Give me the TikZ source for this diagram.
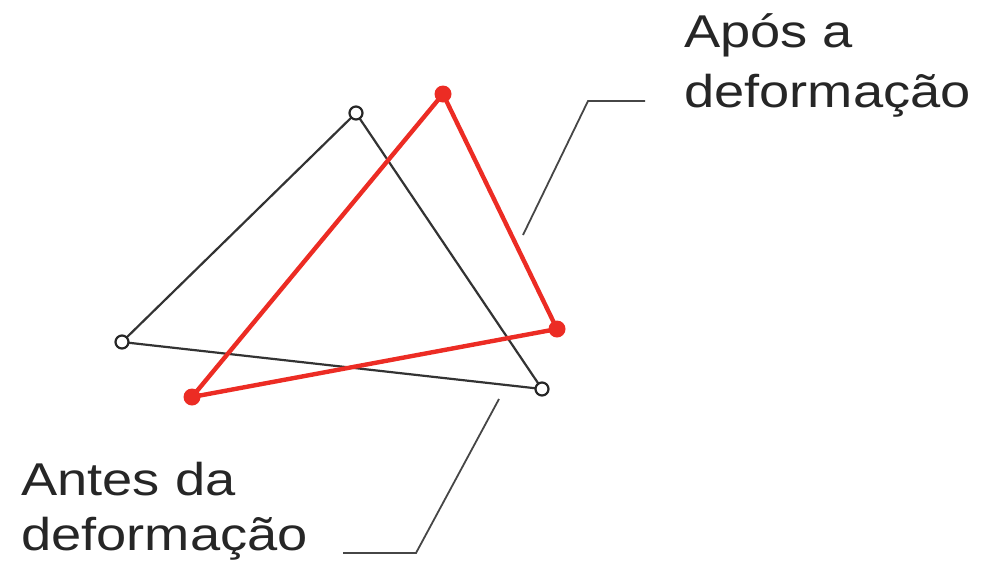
\documentclass[tikz,border=0pt]{standalone}
\usepackage{fontspec}
\newfontfamily\lblfont[FakeStretch=1.18]{Liberation Sans}
\definecolor{redline}{RGB}{236,44,36}
\definecolor{leader}{RGB}{70,70,70}
\begin{document}
\begin{tikzpicture}[x=1pt,y=-1pt,
  blackpt/.style={circle,draw=black!85,line width=2.2pt,minimum size=13pt,inner sep=0pt,fill=white},
  redpt/.style={circle,fill=redline,minimum size=17pt,inner sep=0pt},
  blackedge/.style={draw=black!80,line width=2.2pt},
  rededge/.style={draw=redline,line width=4.4pt,line join=round},
  leaderline/.style={draw=leader,line width=1.8pt},
  lbl/.style={anchor=base west,inner sep=0pt,font=\lblfont\fontsize{46}{56}\selectfont,text=black!85}]
\useasboundingbox (0,0) rectangle (985,566);
% before deformation (black)
\coordinate (ba) at (356,113);
\coordinate (bb) at (122,342);
\coordinate (bc) at (542,389);
\draw[blackedge] (ba) -- (bb) -- (bc) -- cycle;
% after deformation (red)
\coordinate (ra) at (443,94);
\coordinate (rb) at (557,329);
\coordinate (rc) at (192,397);
\draw[rededge] (ra) -- (rb) -- (rc) -- cycle;
\node[redpt] (rA) at (ra) {};
\node[redpt] (rB) at (rb) {};
\node[redpt] (rC) at (rc) {};
\node[blackpt] (bA) at (ba) {};
\node[blackpt] (bB) at (bb) {};
\node[blackpt] (bC) at (bc) {};
% labels
\node[lbl] (apos1) at (684,47) {Após a};
\node[lbl] (apos2) at (684,107) {deformação};
\node[lbl] (antes1) at (21,495) {Antes da};
\node[lbl] (antes2) at (21,550) {deformação};
% leader lines
\coordinate (t0) at (523,235);
\coordinate (t1) at (588,101);
\coordinate (t2) at (645,101);
\draw[leaderline] (t0) -- (t1) -- (t2);
\coordinate (u0) at (499,399);
\coordinate (u1) at (416,553);
\coordinate (u2) at (343,553);
\draw[leaderline] (u0) -- (u1) -- (u2);
\end{tikzpicture}
\end{document}
